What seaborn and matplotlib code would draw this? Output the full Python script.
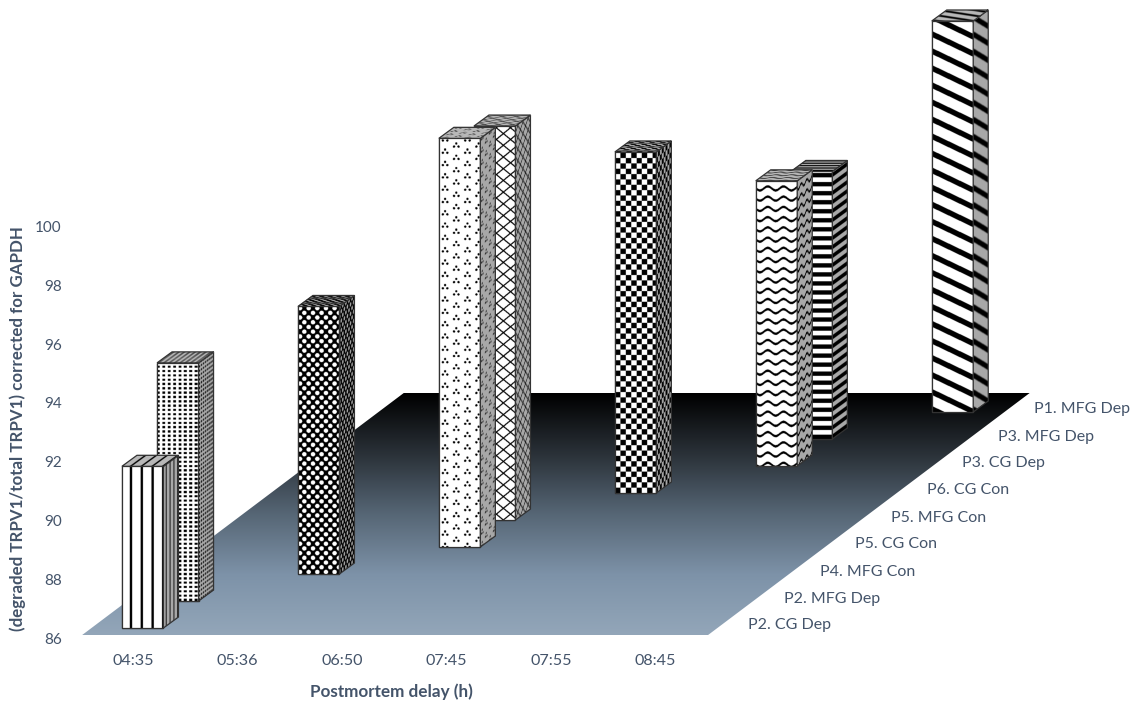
import numpy as np
import matplotlib
matplotlib.use("Agg")
import matplotlib.pyplot as plt
from matplotlib.patches import Polygon
from matplotlib.transforms import Affine2D, IdentityTransform
import seaborn as sns

# Chart values, listed from the front row to the back row
DELAYS = ["04:35", "05:36", "06:50", "07:45", "07:55", "08:45"]
SAMPLES = ["P2. CG Dep", "P2. MFG Dep", "P4. MFG Con", "P5. CG Con", "P5. MFG Con",
           "P6. CG Con", "P3. CG Dep", "P3. MFG Dep", "P1. MFG Dep"]
SAMPLE_DELAY = [0, 0, 1, 2, 2, 3, 4, 4, 5]
VALUES = [91.5, 94.1, 95.1, 99.9, 99.4, 97.6, 95.7, 95.1, 99.3]
Y_TICKS = [86, 88, 90, 92, 94, 96, 98, 100]
BASELINE = 86

TEXT_COLOR = "#44546A"
EDGE_COLOR = "#333333"
FLOOR_STOPS = ["#000000", "#2a3138", "#566675", "#7d92a8", "#93a6b9"]

W, H = 1138, 704
CAT_STEP, CAT_ORIGIN = 105.8, 142.7     # pixels per delay, first bar centre
UNIT = 29.4                             # pixels per y unit
ZERO_Y = 638                            # row of the y value 86
AX_LEFT, AX_BOTTOM = 66, 650
DEPTH_DX, DEPTH_DY, DEPTH_Y0 = 35.1, 27.0, 10.0
BAR_PX = 41.5
SIDE_DX, SIDE_DY = 15.0, 11.0


def lattice(u, v, px, py, r, ox=0.0, oy=0.0):
    """Dots on a staggered grid."""
    a = np.hypot(((u - ox + px / 2) % px) - px / 2, ((v - oy + py / 2) % py) - py / 2)
    b = np.hypot(((u - ox) % px) - px / 2, ((v - oy) % py) - py / 2)
    return np.minimum(a, b) < r


def p_vertical(u, v):
    return ((u - 7.7) % 10.6) < 2.3


def p_dots(u, v):
    return ((u % 5.3) < 2.8) & ((v % 4.3) < 2.2)


def p_black_ovals(u, v):
    return ~lattice(u, v, 8.5, 9.4, 2.2, 2.0, 2.0)


def p_triplets(u, v):
    return (lattice(u, v, 22, 12.3, 1.15, 6, 3.2) | lattice(u, v, 22, 12.3, 1.15, 3.8, 0)
            | lattice(u, v, 22, 12.3, 1.15, 8.2, 0))


def p_lattice(u, v):
    return (((u / 14.0 + v / 11.7) % 1) < 0.13) | (((u / 14.0 - v / 11.7) % 1) < 0.13)


def p_checker(u, v):
    return (np.floor(u / 5.3) + np.floor(v / 5.3)) % 2 == 0


def p_wave(u, v):
    return ((v + 2.0 * np.sin(2 * np.pi * u / 15.5)) % 10.2) < 2.4


def p_horizontal(u, v):
    return (v % 9.0) < 4.5


def p_diagonal(u, v):
    return ((v + 0.485 * u) % 17.0) < 6.0


PATTERNS = [p_vertical, p_dots, p_black_ovals, p_triplets, p_lattice,
            p_checker, p_wave, p_horizontal, p_diagonal]

sns.set_theme(style="white")
plt.rcParams["font.family"] = ["Lato", "DejaVu Sans"]

fig = plt.figure(figsize=(W / 100, H / 100), dpi=100)
ax = fig.add_axes([AX_LEFT / W, (H - AX_BOTTOM) / H, 1 - AX_LEFT / W, AX_BOTTOM / H])

# Front faces of the columns, back row first so that nearer columns overlap
heights = np.array(VALUES) - BASELINE
order = list(range(len(VALUES)))[::-1]
bars = {}
for draw_pos, j in enumerate(order):
    before = len(ax.patches)
    sns.barplot(x=[SAMPLE_DELAY[j]], y=[heights[j]], native_scale=True,
                width=BAR_PX / CAT_STEP, bottom=BASELINE, color="white",
                saturation=1, edgecolor=EDGE_COLOR, linewidth=0.9,
                zorder=10 + draw_pos, ax=ax)
    bars[j] = ax.patches[before]

ax.set_xlim((AX_LEFT - CAT_ORIGIN) / CAT_STEP, (W - CAT_ORIGIN) / CAT_STEP)
ax.set_ylim(BASELINE - (AX_BOTTOM - ZERO_Y) / UNIT, BASELINE + ZERO_Y / UNIT)
ax.set_autoscale_on(False)


def proj(cat, depth, value):
    """Delay position, row and value to a point on the canvas."""
    x, y = ax.transData.transform((cat, value))
    return np.array([x + DEPTH_DX * depth, y + DEPTH_Y0 + DEPTH_DY * depth])


def textured_face(origin, ex, ey, size_u, size_v, pattern, shade, z):
    """Paint a pattern on a parallelogram given by its corner and unit vectors."""
    ss = 3
    uu = (np.arange(int(size_u * ss)) + 0.5) / ss
    vv = (np.arange(int(size_v * ss)) + 0.5) / ss
    U, V = np.meshgrid(uu, vv)
    img = np.where(pattern(U, V), 0.0, 1.0) * shade
    aff = Affine2D.from_values(ex[0], ex[1], ey[0], ey[1], origin[0], origin[1])
    ax.imshow(img, cmap="gray", vmin=0, vmax=1, origin="lower", aspect="auto",
              extent=(0, size_u, 0, size_v), interpolation="antialiased",
              transform=aff, zorder=z)
    corners = [origin, origin + ex * size_u, origin + ex * size_u + ey * size_v,
               origin + ey * size_v]
    ax.add_patch(Polygon(corners, closed=True, fill=False, edgecolor=EDGE_COLOR,
                         linewidth=0.9, transform=IdentityTransform(), zorder=z + 0.05))


half = BAR_PX / CAT_STEP / 2
side_u = np.array([SIDE_DX, SIDE_DY]) / BAR_PX

# Floor: a parallelogram filled with a vertical gradient
floor_front, floor_back = -7.0 / DEPTH_DY, (635 - 393 - 7.0) / DEPTH_DY
floor_pts = [proj(-0.486, floor_front, BASELINE), proj(5.43, floor_front, BASELINE),
             proj(5.43 + 0.066, floor_back, BASELINE), proj(-0.486 + 0.066, floor_back, BASELINE)]
floor_pts = np.array(floor_pts)
gradient = np.array(sns.blend_palette(FLOOR_STOPS, n_colors=256))[:, None, :]
floor_img = ax.imshow(gradient, origin="upper", aspect="auto",
                      extent=(floor_pts[:, 0].min(), floor_pts[:, 0].max(),
                              floor_pts[:, 1].min(), floor_pts[:, 1].max()),
                      transform=IdentityTransform(), interpolation="bilinear", zorder=1)
floor_img.set_clip_path(Polygon(floor_pts, closed=True, transform=IdentityTransform()))

# Column faces
for draw_pos, j in enumerate(order):
    z = 10 + draw_pos
    c = SAMPLE_DELAY[j]
    v = VALUES[j]
    bars[j].set_transform(ax.transData + Affine2D().translate(DEPTH_DX * j, DEPTH_Y0 + DEPTH_DY * j))
    bl = proj(c - half, j, BASELINE)
    tl = proj(c - half, j, v)
    br = proj(c + half, j, BASELINE)
    height_px = tl[1] - bl[1]
    pat = PATTERNS[j]
    textured_face(bl, np.array([1.0, 0.0]), np.array([0.0, 1.0]), BAR_PX, height_px, pat, 1.0, z + 0.1)
    textured_face(br, side_u, np.array([0.0, 1.0]), BAR_PX, height_px, pat, 0.66, z + 0.2)
    textured_face(tl, np.array([1.0, 0.0]), side_u, BAR_PX, BAR_PX, pat, 0.72, z + 0.3)

# Axes furniture
sns.despine(ax=ax, left=True, bottom=True)
label_centres = [133, 237.4, 342, 446.6, 551, 655]
ax.set_xticks([(p - CAT_ORIGIN) / CAT_STEP for p in label_centres], DELAYS)
ax.set_yticks(Y_TICKS, [str(t) for t in Y_TICKS])
ax.tick_params(axis="both", length=0, labelcolor=TEXT_COLOR)
ax.tick_params(axis="y", pad=3, labelsize=11)
ax.tick_params(axis="x", pad=3, labelsize=11.6)
ax.patch.set_visible(False)
ax.grid(False)

ax.set_xlabel("Postmortem delay (h)", fontweight="bold", fontsize=12.3, color=TEXT_COLOR)
ax.set_ylabel("(degraded TRPV1/total TRPV1) corrected for GAPDH", fontweight="bold",
              fontsize=12.2, color=TEXT_COLOR)
ax.xaxis.set_label_coords((391 - AX_LEFT) / (W - AX_LEFT), (AX_BOTTOM - 692) / AX_BOTTOM)
ax.yaxis.set_label_coords((18 - AX_LEFT) / (W - AX_LEFT), (AX_BOTTOM - 429) / AX_BOTTOM)
ax.xaxis.label.set_verticalalignment("center")
ax.yaxis.label.set_verticalalignment("center")

# Row labels along the right edge of the floor
for j, name in enumerate(SAMPLES):
    ax.text(748 + 35.75 * j, H - (625.5 - DEPTH_DY * j), name, color=TEXT_COLOR, fontsize=11.5,
            ha="left", va="center", transform=IdentityTransform(), clip_on=False)

fig.savefig("out.png", dpi=100)
